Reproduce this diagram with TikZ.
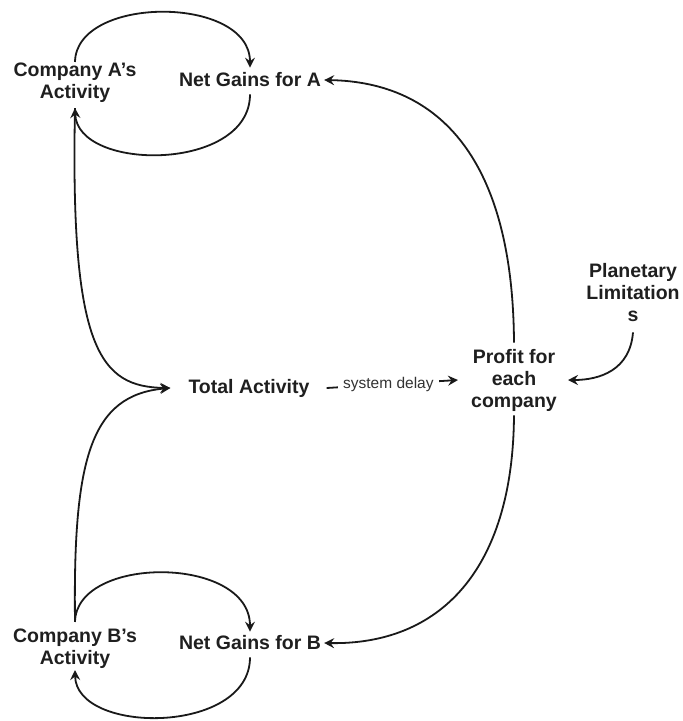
\documentclass[tikz,border=0pt]{standalone}
\usepackage{fontspec}
\setmainfont{Liberation Sans}
\usetikzlibrary{arrows.meta,calc}

\newcommand{\apos}{\char"27\relax}

\begin{document}
\begin{tikzpicture}[x=1pt,y=-1pt,
  lbl/.style={font=\fontsize{19.5}{22}\selectfont\bfseries, align=center,
              inner sep=0pt, text=black!88},
  link/.style={line width=1.8pt, draw=black!90,
               -{Stealth[length=10pt,width=10pt,inset=3.5pt]}},
  delay/.style={font=\fontsize{15.5}{18}\selectfont, fill=white,
                inner xsep=5pt, inner ysep=2pt, text=black!80}]

\useasboundingbox (0,0) rectangle (683,721);

% variables
\node[lbl] (cA)   at (75,83)  {Company A\apos s\\Activity};
\node[lbl] (nA)   at (250,80) {Net Gains for A};
\node[lbl] (tot)  at (249,388) {Total Activity};
\node[lbl] (prof) at (514,380) {Profit for\\each\\company};
\node[lbl] (plan) at (633,293) {Planetary\\Limitation\\s};
\node[lbl] (cB)   at (75,649) {Company B\apos s\\Activity};
\node[lbl] (nB)   at (250,643) {Net Gains for B};

% reinforcing loop for company A
\draw[link] ([yshift=1pt]cA.north) .. controls (76,-5) and (250,-5) .. ([yshift=5pt]nA.north);
\draw[link] ([yshift=-7pt]nA.south) .. controls (250,172) and (77,172) .. ([yshift=-5pt]cA.south);

% reinforcing loop for company B
\draw[link] ([yshift=7pt]cB.north) .. controls (76,555) and (250,555) .. ([yshift=4pt]nB.north);
\draw[link] ([yshift=-7pt]nB.south) .. controls (250,735) and (76,735) .. ([yshift=-1pt]cB.south);

% both activities feed the total
\draw[link] ([yshift=-5pt]cA.south) .. controls (70,350) and (100,387) .. ([xshift=-18pt]tot.west);
\draw[link] ([yshift=7pt]cB.north) .. controls (73,460) and (90,395) .. ([xshift=-18pt]tot.west);

% delayed effect on profit
\draw[link] ([xshift=17pt]tot.east) -- node[delay, pos=0.47] {system delay} ([xshift=-13pt]prof.west);

% profit drives the net gains
\draw[link] ([yshift=6pt]prof.north) .. controls (513,160) and (440,82) .. ([xshift=3pt]nA.east);
\draw[link] ([yshift=-4pt]prof.south) .. controls (513,570) and (440,645) .. ([xshift=3pt]nB.east);

% limits acting on profit
\draw[link] ([yshift=-10pt]plan.south) .. controls (630,370) and (600,380) .. ([xshift=11pt]prof.east);

\end{tikzpicture}
\end{document}
